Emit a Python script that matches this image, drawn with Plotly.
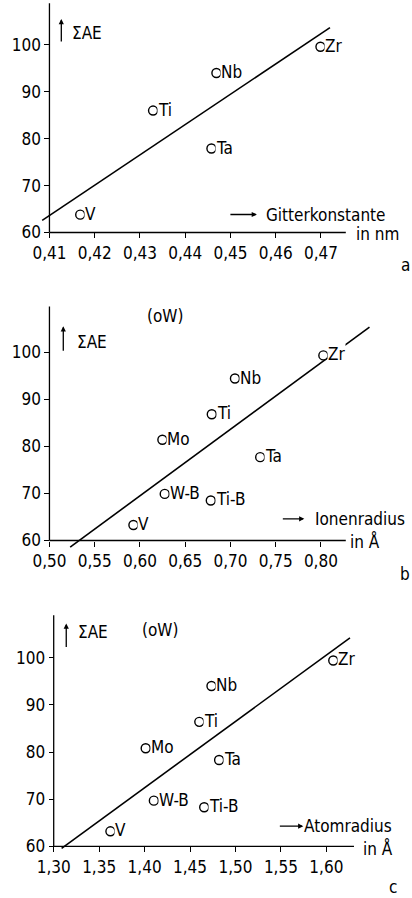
import plotly.graph_objects as go

W, H = 412, 898
FONT = "DejaVu Sans Condensed, Liberation Sans Narrow, DejaVu Sans, sans-serif"
FS = 17

# ---------------- data ----------------
a_names = ["V", "Ti", "Nb", "Ta", "Zr"]
a_x = [0.4168, 0.4329, 0.4469, 0.4458, 0.4699]
a_y = [63.8, 86.0, 94.0, 77.9, 99.6]
a_line_x = [0.4084, 0.4720]
a_line_y = [62.6, 103.7]
a_ticks = [0.41, 0.42, 0.43, 0.44, 0.45, 0.46, 0.47]
a_ticktext = ["0,41", "0,42", "0,43", "0,44", "0,45", "0,46", "0,47"]

b_names = ["V", "Ti", "Nb", "Ta", "Zr", "Mo", "W-B", "Ti-B"]
b_x = [0.5928, 0.6794, 0.7050, 0.7329, 0.8027, 0.6248, 0.6274, 0.6783]
b_y = [63.3, 86.8, 94.4, 77.7, 99.3, 81.4, 69.9, 68.5]
b_line_x = [0.5229, 0.8537]
b_line_y = [58.6, 105.3]
b_w = (0.6274, 107.6)
b_ticks = [0.50, 0.55, 0.60, 0.65, 0.70, 0.75, 0.80]
b_ticktext = ["0,50", "0,55", "0,60", "0,65", "0,70", "0,75", "0,80"]

c_names = ["V", "Ti", "Nb", "Ta", "Zr", "Mo", "W-B", "Ti-B"]
c_x = [1.3624, 1.4602, 1.4736, 1.4820, 1.6076, 1.4012, 1.4102, 1.4656]
c_y = [63.2, 86.4, 94.0, 78.3, 99.4, 80.8, 69.7, 68.3]
c_line_x = [1.3087, 1.6260]
c_line_y = [59.6, 104.2]
c_w = (1.4167, 105.8)
c_ticks = [1.30, 1.35, 1.40, 1.45, 1.50, 1.55, 1.60]
c_ticktext = ["1,30", "1,35", "1,40", "1,45", "1,50", "1,55", "1,60"]

y_ticks = [60, 70, 80, 90, 100]
y_ticktext = ["60", "70", "80", "90", "100"]


def px(x):
    return x / W


def py(y):
    return 1 - y / H


fig = go.Figure()

panels = [
    dict(names=a_names, x=a_x, y=a_y, lx=a_line_x, ly=a_line_y,
         ticks=a_ticks, ticktext=a_ticktext,
         xdom=(33, 352), ydom=(2, 241),
         xr=(0.40738, 0.47703), yr=(58.30, 109.15),
         x0=0.41, xend=0.4755, yend=108.9, w=None),
    dict(names=b_names, x=b_x, y=b_y, lx=b_line_x, ly=b_line_y,
         ticks=b_ticks, ticktext=b_ticktext,
         xdom=(33, 372), ydom=(305, 552),
         xr=(0.4869, 0.8570), yr=(57.82, 110.15),
         x0=0.50, xend=0.8275, yend=109.7, w=b_w),
    dict(names=c_names, x=c_x, y=c_y, lx=c_line_x, ly=c_line_y,
         ticks=c_ticks, ticktext=c_ticktext,
         xdom=(37, 372), ydom=(612, 858),
         xr=(1.28663, 1.65076), yr=(57.95, 109.96),
         x0=1.30, xend=1.6304, yend=109.0, w=c_w),
]

annotations = []
shapes = []
for i, p in enumerate(panels):
    n = "" if i == 0 else str(i + 1)
    xa, ya = "x" + n, "y" + n
    xdom = [px(p["xdom"][0]), px(p["xdom"][1])]
    ydom = [py(p["ydom"][1]), py(p["ydom"][0])]
    yfrac = ydom[0] + (60 - p["yr"][0]) / (p["yr"][1] - p["yr"][0]) * (ydom[1] - ydom[0])
    xfrac = xdom[0] + (p["x0"] - p["xr"][0]) / (p["xr"][1] - p["xr"][0]) * (xdom[1] - xdom[0])

    fig.add_trace(go.Scatter(x=p["lx"], y=p["ly"], mode="lines",
                             line=dict(color="black", width=1.6),
                             xaxis=xa, yaxis=ya, showlegend=False, hoverinfo="skip"))
    fig.add_trace(go.Scatter(x=p["x"], y=p["y"], mode="markers",
                             marker=dict(symbol="circle", size=9, color="white",
                                         line=dict(color="black", width=1.4)),
                             xaxis=xa, yaxis=ya, showlegend=False, hoverinfo="skip"))
    for nm, xv, yv in zip(p["names"], p["x"], p["y"]):
        annotations.append(dict(x=xv, y=yv, xref=xa, yref=ya, text=nm,
                                showarrow=False, xanchor="left", yanchor="middle",
                                xshift=4, yshift=1, bgcolor="white", borderpad=0,
                                font=dict(size=FS, color="black", family=FONT)))
    if p["w"] is not None:
        annotations.append(dict(x=p["w"][0], y=p["w"][1], xref=xa, yref=ya, text="(oW)",
                                showarrow=False, xanchor="center", yanchor="middle",
                                font=dict(size=FS, color="black", family=FONT)))
    shapes.append(dict(type="line", xref=xa, yref=ya, x0=p["x0"], x1=p["xend"], y0=60, y1=60,
                       line=dict(color="black", width=1.3)))
    shapes.append(dict(type="line", xref=xa, yref=ya, x0=p["x0"], x1=p["x0"], y0=60, y1=p["yend"],
                       line=dict(color="black", width=1.3)))

    fig.update_layout(**{
        ("xaxis" + n): dict(domain=xdom, range=list(p["xr"]), anchor="free", position=yfrac,
                            showgrid=False, zeroline=False, showline=False,
                            tickmode="array", tickvals=p["ticks"], ticktext=p["ticktext"],
                            ticks="outside", ticklen=5, tickwidth=1.2, tickcolor="black",
                            tickfont=dict(size=FS, color="black", family=FONT)),
        ("yaxis" + n): dict(domain=ydom, range=list(p["yr"]), anchor="free", position=xfrac,
                            showgrid=False, zeroline=False, showline=False,
                            tickmode="array", tickvals=y_ticks, ticktext=y_ticktext,
                            ticks="outside", ticklen=5, tickwidth=1.2, tickcolor="black",
                            tickfont=dict(size=FS, color="black", family=FONT)),
    })


def arrow(hx, hy, ax, ay):
    annotations.append(dict(x=px(hx), y=py(hy), xref="paper", yref="paper", text="",
                            showarrow=True, ax=ax, ay=ay, arrowhead=2, arrowsize=0.8,
                            arrowwidth=1.3, arrowcolor="black"))


def label(text, x, y, anchor="left", size=FS):
    annotations.append(dict(x=px(x), y=py(y), xref="paper", yref="paper", text=text,
                            showarrow=False, xanchor=anchor, yanchor="middle",
                            font=dict(size=size, color="black", family=FONT)))


# panel a texts
arrow(57, 19, 0, 24)
label("ΣAE", 66, 33)
arrow(255, 215, -28, 0)
label("Gitterkonstante", 262, 215)
label("in nm", 353, 235)
label("a", 412, 266, "right")
# panel b texts
arrow(59, 327, 0, 26)
label("ΣAE", 71, 343)
arrow(303, 520, -23, 0)
label("Ionenradius", 312, 520)
label("in Å", 347, 543)
label("b", 412, 575, "right")
# panel c texts
arrow(62, 625, 0, 25)
label("ΣAE", 72, 633)
arrow(302, 828, -25, 0)
label("Atomradius", 301, 828)
label("in Å", 360, 850)
label("c", 393, 889, "center")

fig.update_layout(width=W, height=H, margin=dict(l=0, r=0, t=0, b=0),
                  paper_bgcolor="white", plot_bgcolor="white",
                  annotations=annotations, shapes=shapes,
                  font=dict(family=FONT, color="black"))

fig.write_html("out.html", config={"displayModeBar": False},
               post_script="document.body.style.margin='0';document.body.style.overflow='hidden';")
